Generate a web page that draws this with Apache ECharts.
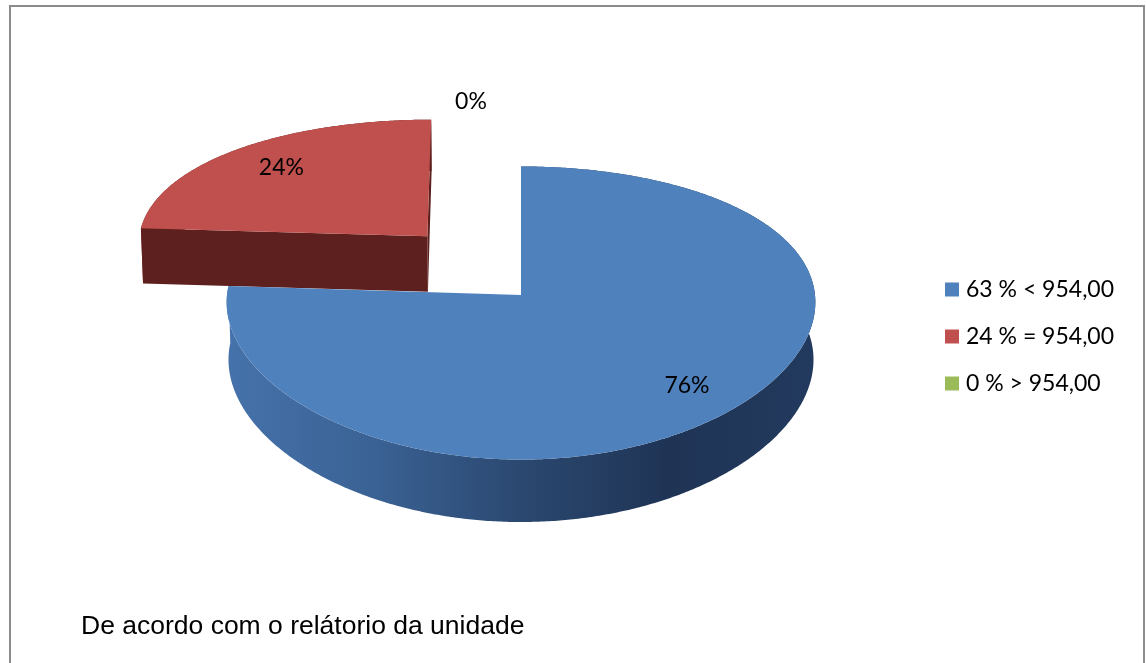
<!DOCTYPE html>
<html>
<head>
<meta charset="utf-8">
<script src="https://cdn.jsdelivr.net/npm/echarts@6/dist/echarts.min.js"></script>
<style>
  html, body { margin: 0; padding: 0; background: #fff; }
  #chart { width: 1146px; height: 663px; }
</style>
</head>
<body>
<div id="chart"></div>
<script>
const categories = ['63 % < 954,00', '24 % = 954,00', '0 % > 954,00']
const values = [76, 24, 0]
const exploded = [0, 1, 0]
const colors = ['#4F81BD', '#C0504D', '#9BBB59']
const wallColors = [
  ['#4672AB', '#3A6294', '#2B4870', '#1F3455', '#223A5E'],
  ['#7A2D2A', '#6A2522', '#5E201E', '#551C1A', '#5A1E1C'],
  ['#7A9444', '#6B843C', '#5F7535', '#54682F', '#58702F']
]
const cutColors = ['#2F5080', '#5E201E', '#5F7535']
const note = 'De acordo com o relátorio da unidade'

// poor man's 3d pie: tilted disc with some perspective, tuned by eye
const cx = 521, cy = 295, R = 294, H = 67
const sinP = 0.491, cosP = 0.871, D = 2084
const xPersp = 0.4
const explodeDist = 158
const explodeTurn = 6 * Math.PI / 180
const labelRadius = [0.8, 0.77, 1.6]
const labelDx = [0, 0, -50]

function proj (X, Y, Z) {
  const sy = Z * sinP - Y * cosP
  const dz = Z * cosP + Y * sinP
  const f = D / (D - dz)
  const fx = 1 + (f - 1) * xPersp
  return [cx + X * fx, cy + sy * f]
}

function grad (stops) {
  return {
    type: 'linear', x: 0, y: 0, x2: 1, y2: 0,
    colorStops: stops.map((c, k) => ({ offset: k / (stops.length - 1), color: c }))
  }
}

// radial cut face with outward normal (nx, nz): visible from the camera?
function faces (nx, nz, ox, oz) {
  return nx * (0 - ox) + nz * (D * cosP - oz) > 0.5
}

function sliceRender (i) {
  return function (params, api) {
    const total = values.reduce((a, b) => a + b, 0)
    let start = 0
    for (let k = 0; k < i; k++) start += values[k]
    const v = api.value(0)
    const a0 = start / total * Math.PI * 2
    const a1 = (start + v) / total * Math.PI * 2
    const mid = (a0 + a1) / 2
    const ex = mid + explodeTurn
    const ox = exploded[i] ? explodeDist * Math.sin(ex) : 0
    const oz = exploded[i] ? -explodeDist * Math.cos(ex) : 0
    const children = []

    if (v > 0) {
      const steps = Math.max(2, Math.ceil((a1 - a0) / (Math.PI / 360)))
      const rimTop = []
      const rimBot = []
      for (let s = 0; s <= steps; s++) {
        const a = a0 + (a1 - a0) * s / steps
        const X = ox + R * Math.sin(a)
        const Z = oz - R * Math.cos(a)
        rimTop.push(proj(X, 0, Z))
        rimBot.push(proj(X, -H, Z))
      }
      const cTop = proj(ox, 0, oz)
      const cBot = proj(ox, -H, oz)

      children.push({
        type: 'polygon',
        shape: { points: rimTop.concat(rimBot.slice().reverse()) },
        style: { fill: grad(wallColors[i]) }
      })
      if (faces(-Math.cos(a0), -Math.sin(a0), ox, oz)) {
        children.push({
          type: 'polygon',
          shape: { points: [cTop, rimTop[0], rimBot[0], cBot] },
          style: { fill: cutColors[i] }
        })
      }
      if (faces(Math.cos(a1), Math.sin(a1), ox, oz)) {
        children.push({
          type: 'polygon',
          shape: { points: [cTop, rimTop[steps], rimBot[steps], cBot] },
          style: { fill: cutColors[i] }
        })
      }
      children.push({
        type: 'polygon',
        shape: { points: [cTop].concat(rimTop) },
        style: { fill: colors[i] }
      })
    }

    const lr = R * labelRadius[i]
    const lp = proj(ox + lr * Math.sin(mid), 0, oz - lr * Math.cos(mid))
    children.push({
      type: 'text',
      z2: 10,
      style: {
        text: Math.round(v / total * 100) + '%',
        x: lp[0] + labelDx[i],
        y: lp[1],
        fill: '#000',
        font: '23px Lato',
        align: 'center',
        verticalAlign: 'middle'
      }
    })
    return { type: 'group', children: children }
  }
}

const chart = echarts.init(document.getElementById('chart'))

chart.setOption({
  animation: false,
  legend: {
    data: categories,
    orient: 'vertical',
    left: 945,
    top: 278,
    padding: 0,
    icon: 'rect',
    itemWidth: 14,
    itemHeight: 14,
    itemGap: 24,
    selectedMode: false,
    textStyle: {
      fontFamily: 'Lato',
      fontSize: 23,
      lineHeight: 23,
      color: '#000',
      padding: [0, 0, 0, 2]
    }
  },
  graphic: [{
    type: 'rect',
    shape: { x: 10, y: 6, width: 1134, height: 700 },
    style: { fill: 'none', stroke: '#8c8c8c', lineWidth: 2 },
    silent: true
  }, {
    type: 'text',
    left: 81,
    top: 613,
    style: {
      text: note,
      font: '26.5px "Liberation Sans"',
      fill: '#000'
    }
  }],
  series: categories.map((name, i) => ({
    name: name,
    type: 'custom',
    coordinateSystem: 'none',
    z: i === 0 ? 3 : (i === 1 ? 2 : 1),
    itemStyle: { color: colors[i] },
    renderItem: sliceRender(i),
    data: [[values[i]]]
  }))
})
</script>
</body>
</html>
